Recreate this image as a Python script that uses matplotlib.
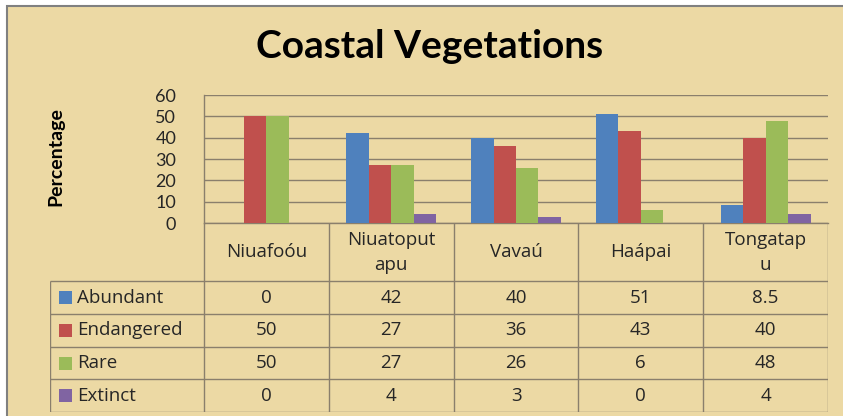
import numpy as np
import matplotlib.pyplot as plt
from matplotlib.patches import Rectangle

# data
categories = ['Niuafoóu', 'Niuatoput\napu', 'Vavaú', 'Haápai', 'Tongatap\nu']
series = ['Abundant', 'Endangered', 'Rare', 'Extinct']
abundant = [0, 42, 40, 51, 8.5]
endangered = [50, 27, 36, 43, 40]
rare = [50, 27, 26, 6, 48]
extinct = [0, 4, 3, 0, 4]
yticks = [0, 10, 20, 30, 40, 50, 60]

colors = ['#4F81BD', '#C0504D', '#9BBB59', '#8064A2']
paper = '#ECD9A4'
line_col = '#8A7F6C'
txt_col = '#262626'

plt.rcParams['font.family'] = ['Lato', 'DejaVu Sans']
tfont = ['Open Sans', 'DejaVu Sans']

W, H = 843, 416
fig = plt.figure(figsize=(W / 100, H / 100), dpi=100, facecolor='white')

# parchment background with grey frame on top/left
fig.patches.append(Rectangle((7 / W, -0.01), 1, 1 - 6 / H + 0.01, transform=fig.transFigure,
                             facecolor=paper, edgecolor='#808080', lw=1.5, zorder=-10))

fig.text(430 / W, 1 - 46 / H, 'Coastal Vegetations', ha='center', va='center',
         fontsize=28, fontweight='bold', color='black')

# chart area
ax = fig.add_axes([204 / W, 1 - 223 / H, (828 - 204) / W, (223 - 95) / H])
ax.set_facecolor('none')
x = np.arange(len(categories)) + 0.5
w = 0.18
data = [abundant, endangered, rare, extinct]
for i, (vals, c) in enumerate(zip(data, colors)):
    ax.bar(x + (i - 1.5) * w, vals, width=w, color=c, zorder=3)

ax.set_xlim(0, 5)
ax.set_ylim(0, 60)
ax.set_yticks(yticks)
ax.set_yticklabels([str(t) for t in yticks], fontsize=13, color=txt_col)
ax.set_xticks([])
ax.tick_params(axis='y', length=0, pad=20)
ax.yaxis.grid(True, color=line_col, lw=1)
ax.set_axisbelow(True)
for s in ['top', 'right']:
    ax.spines[s].set_visible(False)
for s in ['left', 'bottom']:
    ax.spines[s].set_color(line_col)
    ax.spines[s].set_linewidth(1)

fig.text(56 / W, 1 - 157 / H, 'Percentage', rotation=90, ha='center', va='center',
         fontsize=14, fontweight='bold', color='black')

# data table below the chart
hdr = 1.79
nrows = len(series)
lead = (204 - 50) / 124.8
tax = fig.add_axes([50 / W, 1 - 412 / H, (828 - 50) / W, (412 - 223) / H])
tax.set_xlim(-lead, 5)
tax.set_ylim(hdr + nrows, 0)
tax.axis('off')

tax.vlines(range(0, 6), 0, hdr + nrows, color=line_col, lw=1)
tax.vlines(-lead, hdr, hdr + nrows, color=line_col, lw=1)
tax.hlines([hdr + r for r in range(nrows + 1)], -lead, 5, color=line_col, lw=1)

for j, cat in enumerate(categories):
    tax.text(j + 0.5, hdr / 2, cat, ha='center', va='center', fontsize=13.5,
             color=txt_col, linespacing=1.5, family=tfont)

for r, (name, vals, c) in enumerate(zip(series, data, colors)):
    yc = hdr + r + 0.5
    tax.add_patch(Rectangle((-lead + 9 / 124.8, yc - 0.2), 13 / 124.8, 0.4,
                            facecolor=c, edgecolor='none'))
    tax.text(-lead + 27 / 124.8, yc, name, ha='left', va='center', fontsize=13.5,
             color=txt_col, family=tfont)
    for j, v in enumerate(vals):
        tax.text(j + 0.5, yc, f'{v:g}', ha='center', va='center', fontsize=13.5,
                 color=txt_col, family=tfont)

fig.savefig('out.png', dpi=100, facecolor=fig.get_facecolor())
